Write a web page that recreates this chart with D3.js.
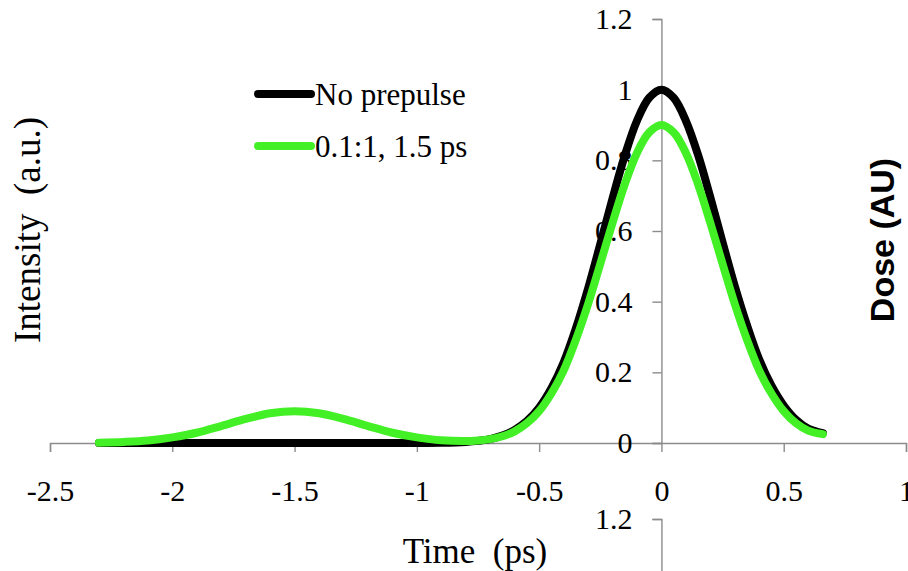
<!DOCTYPE html>
<html>
<head>
<meta charset="utf-8">
<script src="https://cdn.jsdelivr.net/npm/d3@7"></script>
<style>
  body { margin: 0; background: #fff; overflow: hidden; }
</style>
</head>
<body>
<script>
// data
var timeX = [-2.3, -2.2, -2.1, -2.0, -1.9, -1.8, -1.7, -1.6, -1.5, -1.4, -1.3, -1.2, -1.1, -1.0,
  -0.9, -0.8, -0.75, -0.7, -0.65, -0.6, -0.55, -0.5, -0.45, -0.4, -0.35, -0.3, -0.25, -0.2, -0.15,
  -0.1, -0.05, 0, 0.05, 0.1, 0.15, 0.2, 0.25, 0.3, 0.35, 0.4, 0.45, 0.5, 0.55, 0.6, 0.66];

var noPrepulse = [0, 0, 0, 0, 0, 0, 0, 0, 0, 0, 0, 0, 0, 0,
  0.0006, 0.003, 0.006, 0.011, 0.021, 0.037, 0.062, 0.10, 0.155, 0.228, 0.324, 0.437, 0.563, 0.692, 0.813,
  0.912, 0.977, 1, 0.977, 0.912, 0.815, 0.695, 0.568, 0.444, 0.333, 0.236, 0.162, 0.106, 0.066, 0.041, 0.028];

var withPrepulse = [0.001, 0.003, 0.007, 0.016, 0.029, 0.048, 0.068, 0.084, 0.09, 0.084, 0.068, 0.048, 0.029, 0.016,
  0.0077, 0.0056, 0.0072, 0.011, 0.019, 0.033, 0.056, 0.090, 0.140, 0.205, 0.292, 0.393, 0.507, 0.623, 0.732,
  0.821, 0.879, 0.9, 0.879, 0.821, 0.732, 0.623, 0.507, 0.393, 0.292, 0.205, 0.140, 0.090, 0.056, 0.035, 0.025];

var seriesNames = ["No prepulse", "0.1:1, 1.5 ps"];
var seriesColors = ["#000000", "#43f026"];

var xTicks = [-2.5, -2, -1.5, -1, -0.5, 0, 0.5, 1];
var yTicks = [0, 0.2, 0.4, 0.6, 0.8, 1, 1.2];

//grandezze
var width = 908, height = 571;
var axisColor = "#8c8c8c";
var serif = "'Liberation Serif', 'Times New Roman', serif";
var sans = "'Liberation Sans', Arial, sans-serif";

var svg = d3.select("body").append("svg")
    .attr("width", width)
    .attr("height", height);

//scale
var x = d3.scaleLinear().domain([-2.5, 1]).range([50, 906]);
var y = d3.scaleLinear().domain([0, 1.2]).range([443, 19]);
// second (cropped) chart below, only its top shows
var y2 = d3.scaleLinear().domain([0, 1.2]).range([943, 519]);

// pezzo del titolo tagliato in alto
svg.append("text")
    .attr("x", 508).attr("y", -26)
    .attr("text-anchor", "middle")
    .style("font-family", sans)
    .style("font-weight", "bold")
    .style("font-size", "52px")
    .style("fill", "#1a6dff")
    .text("g");

//assi (trattino normale, non il meno unicode)
var fmt = function(d) { return String(d); };
var xAxis = d3.axisBottom(x).tickValues(xTicks).tickSize(9).tickPadding(28).tickFormat(fmt);
var yAxis = d3.axisLeft(y).tickValues(yTicks).tickSize(9).tickPadding(20).tickFormat(fmt);
var yAxis2 = d3.axisLeft(y2).tickValues([1.2]).tickSize(9).tickPadding(20).tickFormat(fmt);

function styleAxis(g) {
  g.selectAll("path, line").attr("stroke", axisColor).attr("stroke-width", 1.4);
  g.selectAll("text")
      .style("font-family", serif)
      .style("font-size", "30px")
      .style("fill", "#000");
}

svg.append("g").attr("transform", "translate(0," + y(0) + ")").call(xAxis).call(styleAxis);
svg.append("g").attr("transform", "translate(" + x(0) + ",0)").call(yAxis).call(styleAxis);
svg.append("g").attr("transform", "translate(" + x(0) + ",0)").call(yAxis2).call(styleAxis);

//curve
var line = d3.line()
    .x(function(d) { return x(d[0]); })
    .y(function(d) { return y(d[1]); })
    .curve(d3.curveCatmullRom);

[noPrepulse, withPrepulse].forEach(function(vals, i) {
  svg.append("path")
      .datum(timeX.map(function(t, j) { return [t, vals[j]]; }))
      .attr("fill", "none")
      .attr("stroke", seriesColors[i])
      .attr("stroke-width", 8)
      .attr("stroke-linecap", "round")
      .attr("stroke-linejoin", "round")
      .attr("d", line);
});

//legenda
var legend = svg.append("g");
seriesNames.forEach(function(name, i) {
  var ly = 94 + i * 52;
  legend.append("line")
      .attr("x1", 258).attr("x2", 311)
      .attr("y1", ly).attr("y2", ly)
      .attr("stroke", seriesColors[i])
      .attr("stroke-width", 8)
      .attr("stroke-linecap", "round");
  legend.append("text")
      .attr("x", 315).attr("y", ly + 11)
      .style("font-family", serif)
      .style("font-size", "31px")
      .text(name);
});

//titoli assi
svg.append("text")
    .attr("x", 475).attr("y", 563)
    .attr("text-anchor", "middle")
    .style("font-family", serif)
    .style("font-size", "35px")
    .style("white-space", "pre")
    .text("Time  (ps)");

svg.append("text")
    .attr("transform", "translate(40,230) rotate(-90)")
    .attr("text-anchor", "middle")
    .style("font-family", serif)
    .style("font-size", "37px")
    .style("white-space", "pre")
    .text("Intensity  (a.u.)");

svg.append("text")
    .attr("transform", "translate(894,240) rotate(-90)")
    .attr("text-anchor", "middle")
    .style("font-family", sans)
    .style("font-weight", "bold")
    .style("font-size", "34px")
    .text("Dose (AU)");
</script>
</body>
</html>
